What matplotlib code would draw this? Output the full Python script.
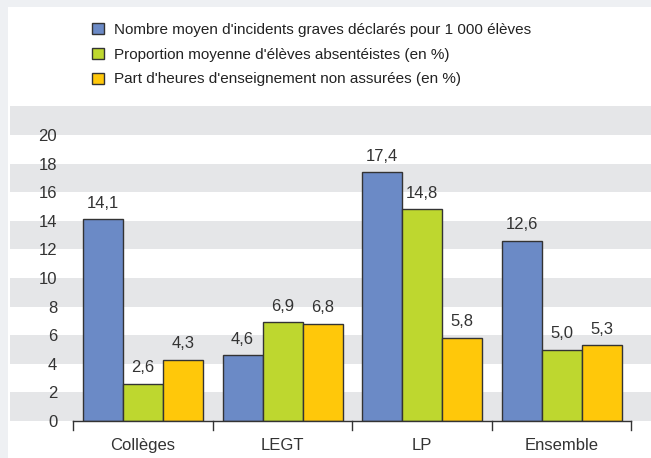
import matplotlib.pyplot as plt
from matplotlib.patches import Rectangle
import numpy as np

categories = ['Collèges', 'LEGT', 'LP', 'Ensemble']
incidents = [14.1, 4.6, 17.4, 12.6]
absenteistes = [2.6, 6.9, 14.8, 5.0]
heures = [4.3, 6.8, 5.8, 5.3]
series_labels = ["Nombre moyen d'incidents graves déclarés pour 1 000 élèves",
                 "Proportion moyenne d'élèves absentéistes (en %)",
                 "Part d'heures d'enseignement non assurées (en %)"]
colors = ['#6b8ac6', '#bed72f', '#ffc80a']
yticks = list(range(0, 21, 2))

plt.rcParams['font.family'] = ['Liberation Sans', 'DejaVu Sans']
FS = 11
W, H = 651, 458
fig = plt.figure(figsize=(W / 100, H / 100), dpi=100, facecolor='#eef0f3')
fig.patches.append(Rectangle((8 / W, 0), 1, 1 - 7 / H, transform=fig.transFigure,
                             facecolor='white', edgecolor='none', zorder=-10))

# axes spans the whole panel width, data coords mapped to pixel layout
ax = fig.add_axes([10 / W, 37 / H, 641 / W, 316 / H])
ax.set_facecolor('none')
step = 139.5
ax.set_xlim((10 - 143) / step, (651 - 143) / step)
ax.set_ylim(0, 22.1)

for y0 in [0, 4, 8, 12, 16, 20]:
    ax.axhspan(y0, min(y0 + 2, 22.1), color='#e5e6e8', zorder=0, lw=0)

x = np.arange(len(categories))
w = 40 / step
for i, (vals, c) in enumerate(zip([incidents, absenteistes, heures], colors)):
    bars = ax.bar(x + (i - 1) * w, vals, w, color=c, edgecolor='#333333', lw=1,
                  label=series_labels[i], zorder=3)
    for b, v in zip(bars, vals):
        ax.text(b.get_x() + b.get_width() / 2, v + 0.6, f'{v:.1f}'.replace('.', ','),
                ha='center', va='bottom', fontsize=FS + 1, color='#333333')

# baseline and separators
ax.plot([-0.5, len(categories) - 0.5], [0, 0], color='#333333', lw=1, zorder=4, clip_on=False)
for b in np.arange(len(categories) + 1) - 0.5:
    ax.plot([b, b], [0, -0.6], color='#333333', lw=1, zorder=4, clip_on=False)

for s in ax.spines.values():
    s.set_visible(False)
ax.set_yticks(yticks)
ax.set_yticklabels([str(t) for t in yticks], fontsize=FS + 1, color='#333333')
# labels sit inside the axes area, right edge ~47px from its left side
ax.tick_params(axis='y', length=0, pad=-34)
ax.set_xticks(x)
ax.set_xticklabels(categories, fontsize=FS + 1, color='#333333')
ax.tick_params(axis='x', length=0, pad=12)

fig.legend(loc='upper left', bbox_to_anchor=(86 / W, 1 - 17 / H), frameon=False,
           fontsize=FS, handlelength=0.75, handleheight=0.75, handletextpad=0.65,
           labelspacing=0.7, borderaxespad=0, labelcolor='#222222')

fig.savefig('out.png', dpi=100)
